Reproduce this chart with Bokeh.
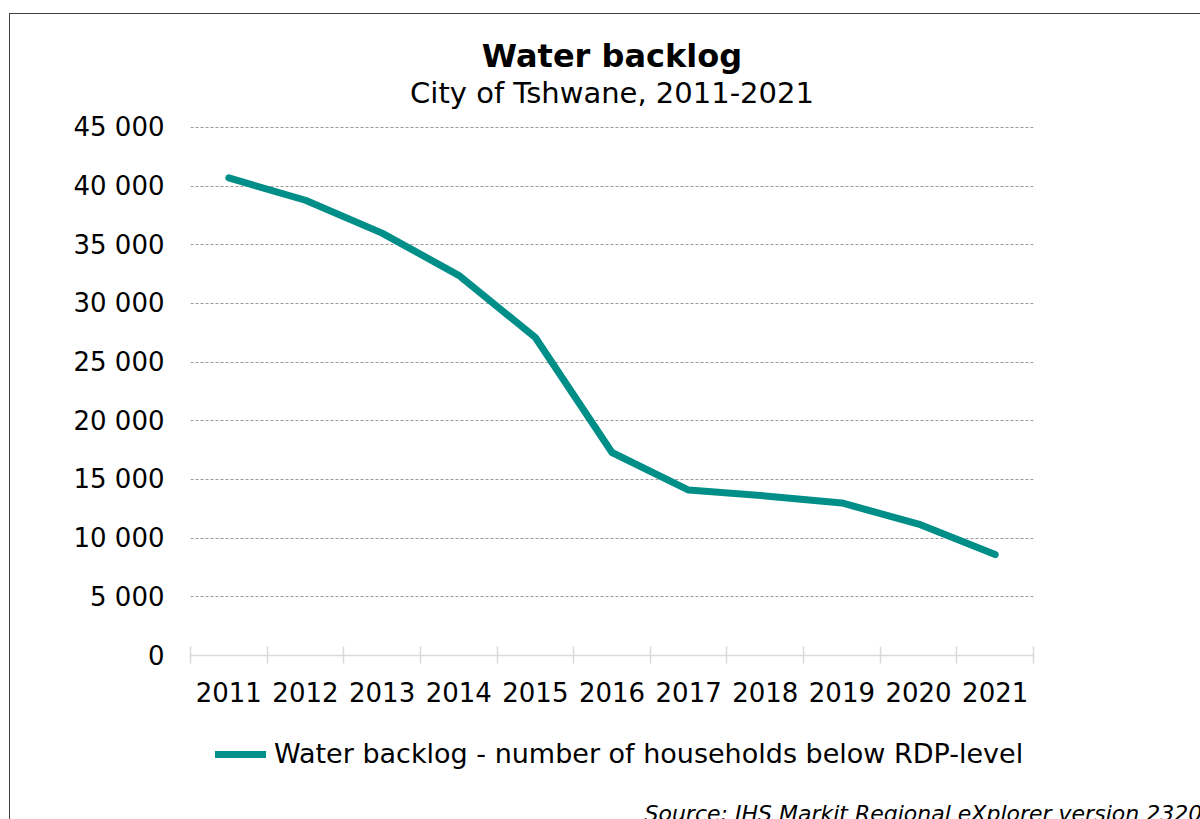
from bokeh.plotting import figure
from bokeh.layouts import column
from bokeh.models import FixedTicker, Range1d, Title, Legend, LegendItem, Label
from bokeh.embed import file_html
from bokeh.resources import INLINE

# Data
years = ["2011", "2012", "2013", "2014", "2015", "2016", "2017", "2018", "2019", "2020", "2021"]
water_backlog = [40700, 38800, 36000, 32400, 27100, 17300, 14100, 13600, 13000, 11200, 8600]
y_ticks = [0, 5000, 10000, 15000, 20000, 25000, 30000, 35000, 40000, 45000]
y_tick_labels = ["0", "5 000", "10 000", "15 000", "20 000", "25 000", "30 000", "35 000", "40 000", "45 000"]

title_text = "Water backlog"
subtitle_text = "City of Tshwane, 2011-2021"
series_label = "Water backlog - number of households below RDP-level"
source_text = "Source: IHS Markit Regional eXplorer version 2320"

FONT = "DejaVu Sans"
LINE_COLOR = "#008F88"
LINE_STYLE = dict(line_color=LINE_COLOR, line_width=7, line_cap="round", line_join="round")

xs = list(range(len(years)))

# ---- main chart ----
p = figure(
    frame_width=843, frame_height=529,
    output_backend="svg", toolbar_location=None, title="",
    x_range=Range1d(-0.5, len(years) - 0.5),
    y_range=Range1d(0, 45085),
    min_border_left=180, min_border_right=167,
    min_border_top=112, min_border_bottom=60,
)
p.outline_line_color = None
p.background_fill_color = "white"
p.border_fill_color = "white"

p.line(xs, water_backlog, **LINE_STYLE)

# x axis: labels at category centres, ticks at category boundaries
xa = p.xaxis[0]
xa.ticker = FixedTicker(ticks=xs, minor_ticks=[i - 0.5 for i in range(len(years) + 1)])
xa.major_label_overrides = {i: y for i, y in enumerate(years)}
xa.axis_line_color = "#d9d9d9"
xa.axis_line_width = 1.5
xa.major_tick_line_color = None
xa.major_tick_out = 0
xa.major_tick_in = 0
xa.minor_tick_line_color = "#d9d9d9"
xa.minor_tick_line_width = 1.5
xa.minor_tick_in = 9
xa.minor_tick_out = 8
xa.major_label_standoff = 18
xa.major_label_text_font = FONT
xa.major_label_text_font_size = "26px"
xa.major_label_text_color = "black"

# y axis
ya = p.yaxis[0]
ya.ticker = FixedTicker(ticks=y_ticks)
ya.major_label_overrides = {t: s for t, s in zip(y_ticks, y_tick_labels)}
ya.axis_line_color = None
ya.major_tick_line_color = None
ya.minor_tick_line_color = None
ya.major_tick_out = 0
ya.major_tick_in = 0
ya.major_label_standoff = 26
ya.major_label_text_font = FONT
ya.major_label_text_font_size = "26px"
ya.major_label_text_color = "black"

p.xgrid.grid_line_color = None
p.ygrid.ticker = FixedTicker(ticks=y_ticks[1:])
p.ygrid.grid_line_color = "#9a9a9a"
p.ygrid.grid_line_dash = "3 2"
p.ygrid.grid_line_width = 1

# Titles above the plot (first added sits nearest the plot)
p.add_layout(Title(text=subtitle_text, align="center", text_font=FONT,
                   text_font_size="29px", text_font_style="normal",
                   text_color="black", standoff=33), "above")
p.add_layout(Title(text=title_text, align="center", text_font=FONT,
                   text_font_size="32px", text_font_style="bold",
                   text_color="black", standoff=-34), "above")

# ---- strip below the chart: legend and source note ----
foot = figure(
    frame_width=1190, frame_height=104,
    output_backend="svg", toolbar_location=None,
    x_axis_type=None, y_axis_type=None,
    x_range=Range1d(0, 1), y_range=Range1d(-2, -1),
    min_border_left=0, min_border_right=0, min_border_top=0, min_border_bottom=0,
)
foot.outline_line_color = None
foot.background_fill_color = "white"
foot.border_fill_color = "white"
foot.xgrid.visible = False
foot.ygrid.visible = False

# legend key: the same series and line style (kept outside this strip's view)
key = foot.line(xs, water_backlog, **LINE_STYLE)
legend = Legend(items=[LegendItem(label=series_label, renderers=[key])],
                location=(205, 50), orientation="horizontal",
                padding=0, margin=0, spacing=0,
                border_line_color=None, background_fill_alpha=0,
                glyph_width=51, glyph_height=30, label_standoff=8,
                label_text_font=FONT, label_text_font_size="27px",
                label_text_color="black")
foot.add_layout(legend, "center")

foot.add_layout(Label(x=454, y=6, x_units="screen", y_units="screen", text=source_text,
                      text_font=FONT, text_font_size="22px", text_font_style="italic",
                      text_align="left", text_baseline="alphabetic", text_color="black"))

page = column(p, foot, spacing=0,
              styles={"margin-left": "9px", "margin-top": "13px",
                      "border-left": "1px solid #404040", "border-top": "1px solid #404040"})

open("out.html", "w").write(file_html(page, INLINE))
